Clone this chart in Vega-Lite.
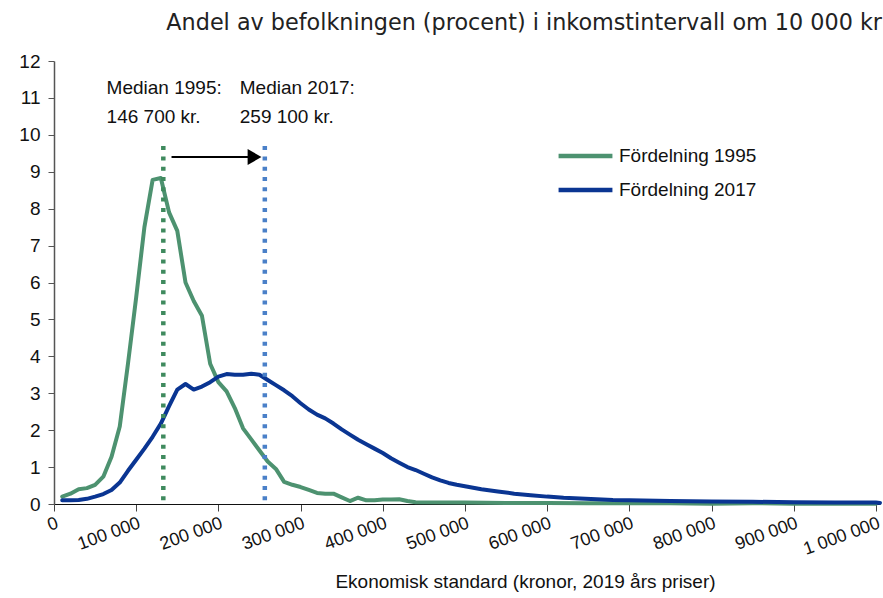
{
  "$schema": "https://vega.github.io/schema/vega-lite/v6.json",
  "autosize": {"type": "none"},
  "width": 826,
  "height": 443,
  "padding": {"left": 54, "top": 61, "right": 3, "bottom": 94},
  "background": "white",
  "title": {
    "text": "Andel av befolkningen (procent) i inkomstintervall om 10 000 kr",
    "anchor": "end",
    "font": "DejaVu Sans",
    "fontSize": 22.3,
    "fontWeight": "normal",
    "color": "#222222",
    "offset": 18
  },
  "config": {
    "view": {"stroke": null},
    "font": "Liberation Sans Narrow, Liberation Sans",
    "axis": {"labelFont": "Liberation Sans Narrow, Liberation Sans", "titleFont": "Liberation Sans Narrow, Liberation Sans"},
    "legend": {"labelFont": "Liberation Sans Narrow, Liberation Sans"}
  },
  "datasets": {
    "curves": [
      {"x": 10000, "v": 0.2, "series": "Fördelning 1995"},
      {"x": 20000, "v": 0.28, "series": "Fördelning 1995"},
      {"x": 30000, "v": 0.4, "series": "Fördelning 1995"},
      {"x": 40000, "v": 0.43, "series": "Fördelning 1995"},
      {"x": 50000, "v": 0.52, "series": "Fördelning 1995"},
      {"x": 60000, "v": 0.74, "series": "Fördelning 1995"},
      {"x": 70000, "v": 1.28, "series": "Fördelning 1995"},
      {"x": 80000, "v": 2.1, "series": "Fördelning 1995"},
      {"x": 90000, "v": 3.8, "series": "Fördelning 1995"},
      {"x": 100000, "v": 5.6, "series": "Fördelning 1995"},
      {"x": 110000, "v": 7.5, "series": "Fördelning 1995"},
      {"x": 120000, "v": 8.78, "series": "Fördelning 1995"},
      {"x": 130000, "v": 8.83, "series": "Fördelning 1995"},
      {"x": 140000, "v": 7.9, "series": "Fördelning 1995"},
      {"x": 150000, "v": 7.4, "series": "Fördelning 1995"},
      {"x": 160000, "v": 6.0, "series": "Fördelning 1995"},
      {"x": 170000, "v": 5.5, "series": "Fördelning 1995"},
      {"x": 180000, "v": 5.1, "series": "Fördelning 1995"},
      {"x": 190000, "v": 3.8, "series": "Fördelning 1995"},
      {"x": 200000, "v": 3.3, "series": "Fördelning 1995"},
      {"x": 210000, "v": 3.05, "series": "Fördelning 1995"},
      {"x": 220000, "v": 2.6, "series": "Fördelning 1995"},
      {"x": 230000, "v": 2.05, "series": "Fördelning 1995"},
      {"x": 240000, "v": 1.75, "series": "Fördelning 1995"},
      {"x": 250000, "v": 1.45, "series": "Fördelning 1995"},
      {"x": 260000, "v": 1.15, "series": "Fördelning 1995"},
      {"x": 270000, "v": 0.95, "series": "Fördelning 1995"},
      {"x": 280000, "v": 0.6, "series": "Fördelning 1995"},
      {"x": 290000, "v": 0.52, "series": "Fördelning 1995"},
      {"x": 300000, "v": 0.46, "series": "Fördelning 1995"},
      {"x": 310000, "v": 0.38, "series": "Fördelning 1995"},
      {"x": 320000, "v": 0.3, "series": "Fördelning 1995"},
      {"x": 330000, "v": 0.28, "series": "Fördelning 1995"},
      {"x": 340000, "v": 0.28, "series": "Fördelning 1995"},
      {"x": 350000, "v": 0.18, "series": "Fördelning 1995"},
      {"x": 360000, "v": 0.08, "series": "Fördelning 1995"},
      {"x": 370000, "v": 0.17, "series": "Fördelning 1995"},
      {"x": 380000, "v": 0.1, "series": "Fördelning 1995"},
      {"x": 390000, "v": 0.1, "series": "Fördelning 1995"},
      {"x": 400000, "v": 0.12, "series": "Fördelning 1995"},
      {"x": 410000, "v": 0.12, "series": "Fördelning 1995"},
      {"x": 420000, "v": 0.13, "series": "Fördelning 1995"},
      {"x": 430000, "v": 0.08, "series": "Fördelning 1995"},
      {"x": 440000, "v": 0.05, "series": "Fördelning 1995"},
      {"x": 500000, "v": 0.04, "series": "Fördelning 1995"},
      {"x": 550000, "v": 0.03, "series": "Fördelning 1995"},
      {"x": 600000, "v": 0.03, "series": "Fördelning 1995"},
      {"x": 650000, "v": 0.02, "series": "Fördelning 1995"},
      {"x": 700000, "v": 0.02, "series": "Fördelning 1995"},
      {"x": 750000, "v": 0.02, "series": "Fördelning 1995"},
      {"x": 800000, "v": 0.01, "series": "Fördelning 1995"},
      {"x": 850000, "v": 0.02, "series": "Fördelning 1995"},
      {"x": 900000, "v": 0.01, "series": "Fördelning 1995"},
      {"x": 950000, "v": 0.01, "series": "Fördelning 1995"},
      {"x": 1000000, "v": 0.01, "series": "Fördelning 1995"},
      {"x": 10000, "v": 0.1, "series": "Fördelning 2017"},
      {"x": 20000, "v": 0.1, "series": "Fördelning 2017"},
      {"x": 30000, "v": 0.11, "series": "Fördelning 2017"},
      {"x": 40000, "v": 0.14, "series": "Fördelning 2017"},
      {"x": 50000, "v": 0.2, "series": "Fördelning 2017"},
      {"x": 60000, "v": 0.27, "series": "Fördelning 2017"},
      {"x": 70000, "v": 0.38, "series": "Fördelning 2017"},
      {"x": 80000, "v": 0.58, "series": "Fördelning 2017"},
      {"x": 90000, "v": 0.9, "series": "Fördelning 2017"},
      {"x": 100000, "v": 1.2, "series": "Fördelning 2017"},
      {"x": 110000, "v": 1.5, "series": "Fördelning 2017"},
      {"x": 120000, "v": 1.82, "series": "Fördelning 2017"},
      {"x": 130000, "v": 2.18, "series": "Fördelning 2017"},
      {"x": 140000, "v": 2.65, "series": "Fördelning 2017"},
      {"x": 150000, "v": 3.1, "series": "Fördelning 2017"},
      {"x": 160000, "v": 3.25, "series": "Fördelning 2017"},
      {"x": 170000, "v": 3.1, "series": "Fördelning 2017"},
      {"x": 180000, "v": 3.18, "series": "Fördelning 2017"},
      {"x": 190000, "v": 3.3, "series": "Fördelning 2017"},
      {"x": 200000, "v": 3.45, "series": "Fördelning 2017"},
      {"x": 210000, "v": 3.52, "series": "Fördelning 2017"},
      {"x": 220000, "v": 3.5, "series": "Fördelning 2017"},
      {"x": 230000, "v": 3.5, "series": "Fördelning 2017"},
      {"x": 240000, "v": 3.53, "series": "Fördelning 2017"},
      {"x": 250000, "v": 3.5, "series": "Fördelning 2017"},
      {"x": 260000, "v": 3.36, "series": "Fördelning 2017"},
      {"x": 270000, "v": 3.22, "series": "Fördelning 2017"},
      {"x": 280000, "v": 3.08, "series": "Fördelning 2017"},
      {"x": 290000, "v": 2.92, "series": "Fördelning 2017"},
      {"x": 300000, "v": 2.73, "series": "Fördelning 2017"},
      {"x": 310000, "v": 2.56, "series": "Fördelning 2017"},
      {"x": 320000, "v": 2.42, "series": "Fördelning 2017"},
      {"x": 330000, "v": 2.32, "series": "Fördelning 2017"},
      {"x": 340000, "v": 2.18, "series": "Fördelning 2017"},
      {"x": 350000, "v": 2.02, "series": "Fördelning 2017"},
      {"x": 360000, "v": 1.88, "series": "Fördelning 2017"},
      {"x": 370000, "v": 1.74, "series": "Fördelning 2017"},
      {"x": 380000, "v": 1.62, "series": "Fördelning 2017"},
      {"x": 390000, "v": 1.5, "series": "Fördelning 2017"},
      {"x": 400000, "v": 1.38, "series": "Fördelning 2017"},
      {"x": 410000, "v": 1.24, "series": "Fördelning 2017"},
      {"x": 420000, "v": 1.12, "series": "Fördelning 2017"},
      {"x": 430000, "v": 1.0, "series": "Fördelning 2017"},
      {"x": 440000, "v": 0.92, "series": "Fördelning 2017"},
      {"x": 450000, "v": 0.82, "series": "Fördelning 2017"},
      {"x": 460000, "v": 0.72, "series": "Fördelning 2017"},
      {"x": 470000, "v": 0.64, "series": "Fördelning 2017"},
      {"x": 480000, "v": 0.57, "series": "Fördelning 2017"},
      {"x": 490000, "v": 0.52, "series": "Fördelning 2017"},
      {"x": 500000, "v": 0.48, "series": "Fördelning 2017"},
      {"x": 520000, "v": 0.4, "series": "Fördelning 2017"},
      {"x": 540000, "v": 0.34, "series": "Fördelning 2017"},
      {"x": 560000, "v": 0.28, "series": "Fördelning 2017"},
      {"x": 580000, "v": 0.24, "series": "Fördelning 2017"},
      {"x": 600000, "v": 0.2, "series": "Fördelning 2017"},
      {"x": 620000, "v": 0.17, "series": "Fördelning 2017"},
      {"x": 640000, "v": 0.15, "series": "Fördelning 2017"},
      {"x": 660000, "v": 0.13, "series": "Fördelning 2017"},
      {"x": 680000, "v": 0.11, "series": "Fördelning 2017"},
      {"x": 700000, "v": 0.1, "series": "Fördelning 2017"},
      {"x": 750000, "v": 0.08, "series": "Fördelning 2017"},
      {"x": 800000, "v": 0.07, "series": "Fördelning 2017"},
      {"x": 850000, "v": 0.06, "series": "Fördelning 2017"},
      {"x": 900000, "v": 0.05, "series": "Fördelning 2017"},
      {"x": 950000, "v": 0.04, "series": "Fördelning 2017"},
      {"x": 1000000, "v": 0.04, "series": "Fördelning 2017"},
      {"x": 1005000, "v": 0.03, "series": "Fördelning 2017"}
    ],
    "medians": [
      {"year": "1995", "x": 133000, "v": 0.1, "v2": 9.76},
      {"year": "2017", "x": 256500, "v": 0.1, "v2": 9.76}
    ],
    "arrow": [
      {"x": 143000, "x2": 240000, "v": 9.4}
    ],
    "tip": [
      {"x": 244000, "v": 9.4}
    ],
    "notes": [
      {"x": 64000, "v": 11.27, "label": "Median 1995:"},
      {"x": 64000, "v": 10.49, "label": "146 700 kr."},
      {"x": 226000, "v": 11.27, "label": "Median 2017:"},
      {"x": 226000, "v": 10.49, "label": "259 100 kr."}
    ]
  },
  "encoding": {
    "x": {
      "field": "x", "type": "quantitative",
      "scale": {"domain": [0, 1005000], "nice": false, "zero": true},
      "axis": {
        "values": [0, 100000, 200000, 300000, 400000, 500000, 600000, 700000, 800000, 900000, 1000000],
        "labelExpr": "replace(format(datum.value, ',d'), /,/g, ' ')",
        "labelAngle": -20,
        "labelAlign": "right",
        "labelBaseline": "top",
        "labelFontSize": 18,
        "labelColor": "#111111",
        "labelPadding": 3,
        "labelOverlap": false,
        "grid": false,
        "domainColor": "#111111",
        "domainWidth": 1.2,
        "tickColor": "#444444",
        "tickSize": 7,
        "title": "Ekonomisk standard (kronor, 2019 års priser)",
        "titleFontSize": 19,
        "titleFontWeight": "normal",
        "titleColor": "#111111",
        "titlePadding": 14,
        "titleX": 471
      }
    },
    "y": {
      "field": "v", "type": "quantitative",
      "scale": {"domain": [0, 12], "nice": false},
      "axis": {
        "values": [0, 1, 2, 3, 4, 5, 6, 7, 8, 9, 10, 11, 12],
        "labelFontSize": 19,
        "labelColor": "#111111",
        "labelPadding": 8,
        "labelOverlap": false,
        "grid": false,
        "domainColor": "#555555",
        "domainWidth": 1.5,
        "tickColor": "#555555",
        "tickSize": 6,
        "title": null
      }
    }
  },
  "layer": [
    {
      "data": {"name": "curves"},
      "mark": {"type": "line", "strokeWidth": 4, "strokeJoin": "round", "strokeCap": "round"},
      "encoding": {
        "color": {
          "field": "series", "type": "nominal",
          "scale": {"domain": ["Fördelning 1995", "Fördelning 2017"], "range": ["#4d9270", "#0a3592"]},
          "legend": {
            "title": null,
            "orient": "none",
            "legendX": 502,
            "legendY": 84,
            "symbolType": "stroke",
            "symbolSize": 2900,
            "symbolStrokeWidth": 4.5,
            "labelFontSize": 19,
            "labelColor": "#111111",
            "labelOffset": 4,
            "clipHeight": 22,
            "rowPadding": 12
          }
        }
      }
    },
    {
      "data": {"name": "medians"},
      "mark": {"type": "rule", "strokeWidth": 4.5, "strokeDash": [4, 6.3]},
      "encoding": {
        "y2": {"field": "v2"},
        "stroke": {
          "field": "year", "type": "nominal",
          "scale": {"domain": ["1995", "2017"], "range": ["#3f8a5e", "#4a80c8"]},
          "legend": null
        }
      }
    },
    {
      "data": {"name": "arrow"},
      "mark": {"type": "rule", "strokeWidth": 2, "color": "#000000"},
      "encoding": {
        "x2": {"field": "x2"}
      }
    },
    {
      "data": {"name": "tip"},
      "mark": {"type": "point", "shape": "triangle-right", "size": 256, "filled": true, "color": "#000000", "opacity": 1}
    },
    {
      "data": {"name": "notes"},
      "mark": {"type": "text", "align": "left", "baseline": "middle", "fontSize": 19, "color": "#111111"},
      "encoding": {
        "text": {"field": "label"}
      }
    }
  ],
  "resolve": {"scale": {"color": "independent", "stroke": "independent"}}
}
